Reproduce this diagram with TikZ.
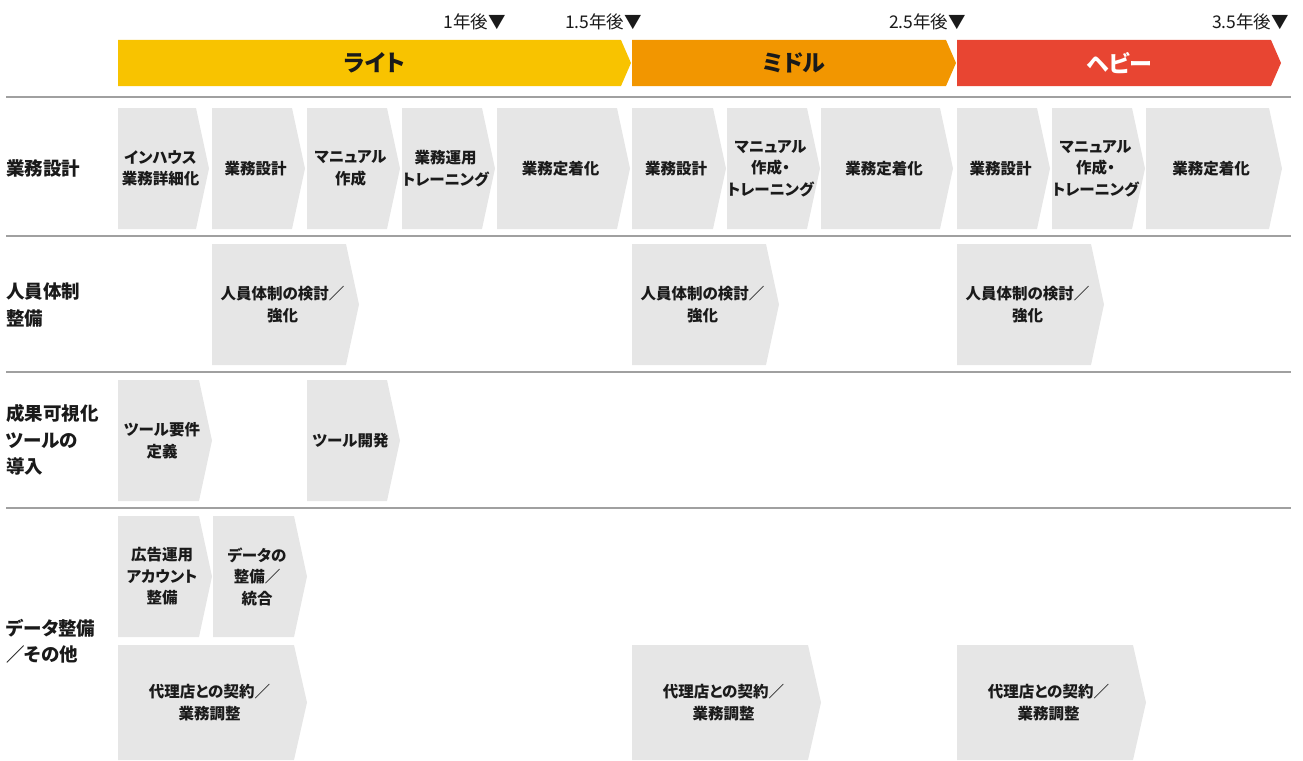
\documentclass[tikz,border=0pt]{standalone}
\usepackage{fontspec}
\newfontfamily\jp[RawFeature={+palt}]{Noto Sans CJK JP}
\definecolor{lightbar}{HTML}{F8C300}
\definecolor{midbar}{HTML}{F29600}
\definecolor{heavybar}{HTML}{E84532}
\definecolor{chevgray}{HTML}{E6E6E6}
\definecolor{sepgray}{HTML}{A0A0A0}
\definecolor{ink}{HTML}{1A1A1A}
\tikzset{
  chevfill/.style={fill=chevgray},
  chevtext/.style={align=center,inner sep=0pt,text=ink,font=\jp\bfseries\fontsize{15.5}{21.5}\selectfont},
  rowlabel/.style={anchor=west,align=left,inner sep=0pt,text=ink,font=\jp\bfseries\fontsize{18.5}{26.5}\selectfont},
  stagetext/.style={inner sep=0pt,font=\jp\bfseries\fontsize{23}{26}\selectfont},
  marktext/.style={anchor=east,inner sep=0pt,text=ink,font=\jp\fontsize{17.5}{19}\selectfont},
  sepline/.style={draw=sepgray,line width=1.3pt}
}
% name, x-left, x-tip, y-top, y-bottom, text
\newcommand\chev[6]{%
  \fill[chevfill] (#2,#4) -- ({#3-13},#4) -- (#3,{(#4+#5)/2}) -- ({#3-13},#5) -- (#2,#5) -- cycle;
  \node[chevtext] (#1) at ({(#2+#3)/2-3},{(#4+#5)/2}) {#6};}
% name, x-left, x-tip, colour, text, text colour
\newcommand\stagebar[6]{%
  \fill[#4] (#2,40) -- ({#3-10},40) -- (#3,63) -- ({#3-10},86) -- (#2,86) -- cycle;
  \node[stagetext,text=#6] (#1) at ({(#2+#3)/2},63) {#5};}
\begin{document}
\begin{tikzpicture}[x=1pt,y=-1pt]
\useasboundingbox (0,0) rectangle (1303,760);
% time markers
\node[marktext] (m1) at (506,22) {1年後▼};
\node[marktext] (m2) at (642,22) {1.5年後▼};
\node[marktext] (m3) at (966,22) {2.5年後▼};
\node[marktext] (m4) at (1289,22) {3.5年後▼};
% stage bars
\stagebar{light}{118}{631}{lightbar}{ライト}{ink}
\stagebar{middle}{632}{956}{midbar}{ミドル}{ink}
\stagebar{heavy}{957}{1281}{heavybar}{ヘビー}{white}
% separators
\coordinate (s0l) at (6,97);   \coordinate (s0r) at (1291,97);
\coordinate (s1l) at (6,236);  \coordinate (s1r) at (1291,236);
\coordinate (s2l) at (6,372);  \coordinate (s2r) at (1291,372);
\coordinate (s3l) at (6,508);  \coordinate (s3r) at (1291,508);
\draw[sepline] (s0l) -- (s0r);
\draw[sepline] (s1l) -- (s1r);
\draw[sepline] (s2l) -- (s2r);
\draw[sepline] (s3l) -- (s3r);
% row labels
\node[rowlabel] (r1) at (6,168) {業務設計};
\node[rowlabel] (r2) at (6,305) {人員体制\\整備};
\node[rowlabel] (r3) at (6,440) {成果可視化\\ツールの\\導入};
\node[rowlabel] (r4) at (6,641) {データ整備\\／その他};
% row 1
\chev{a1}{118}{209}{108}{229}{インハウス\\業務詳細化}
\chev{a2}{212}{305}{108}{229}{業務設計}
\chev{a3}{307}{400}{108}{229}{マニュアル\\作成}
\chev{a4}{402}{495}{108}{229}{業務運用\\トレーニング}
\chev{a5}{497}{630}{108}{229}{業務定着化}
\chev{a6}{632}{726}{108}{229}{業務設計}
\chev{a7}{727}{820}{108}{229}{マニュアル\\作成・\\トレーニング}
\chev{a8}{821}{953}{108}{229}{業務定着化}
\chev{a9}{957}{1050}{108}{229}{業務設計}
\chev{a10}{1052}{1145}{108}{229}{マニュアル\\作成・\\トレーニング}
\chev{a11}{1146}{1282}{108}{229}{業務定着化}
% row 2
\chev{b1}{212}{359}{244}{365}{人員体制の検討／\\強化}
\chev{b2}{632}{779}{244}{365}{人員体制の検討／\\強化}
\chev{b3}{957}{1104}{244}{365}{人員体制の検討／\\強化}
% row 3
\chev{c1}{118}{212}{380}{501}{ツール要件\\定義}
\chev{c2}{307}{400}{380}{501}{ツール開発}
% row 4
\chev{d1}{118}{212}{516}{637}{広告運用\\アカウント\\整備}
\chev{d2}{213}{307}{516}{637}{データの\\整備／\\統合}
\chev{e1}{118}{307}{645}{760}{代理店との契約／\\業務調整}
\chev{e2}{632}{821}{645}{760}{代理店との契約／\\業務調整}
\chev{e3}{957}{1146}{645}{760}{代理店との契約／\\業務調整}
\end{tikzpicture}
\end{document}
